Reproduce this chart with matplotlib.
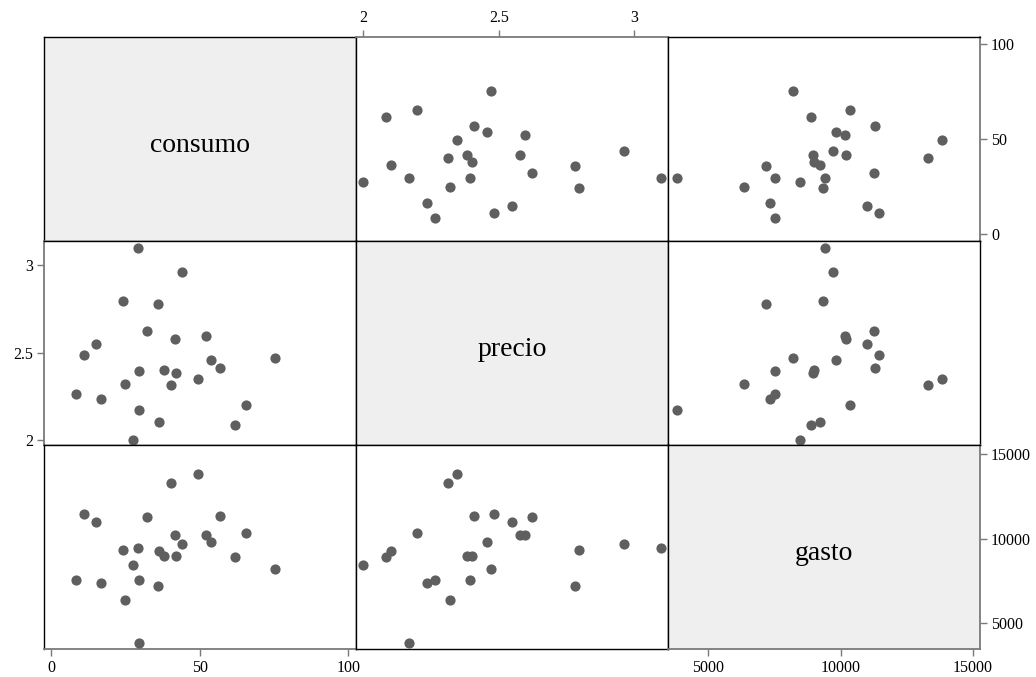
import numpy as np
import matplotlib.pyplot as plt

# scatterplot matrix of consumo / precio / gasto (Stata style graph matrix)

consumo = [8.3, 11.0, 15.0, 16.6, 24.1, 24.8, 27.5, 29.3, 29.6, 29.6, 32.1, 36.0, 36.2,
           37.9, 40.3, 41.7, 41.9, 43.9, 49.5, 52.0, 53.7, 56.9, 61.7, 65.6, 75.2]
precio = [2.265, 2.484, 2.548, 2.234, 2.795, 2.321, 2.000, 3.097, 2.394, 2.169, 2.622, 2.780, 2.102,
          2.402, 2.312, 2.577, 2.382, 2.961, 2.346, 2.597, 2.458, 2.410, 2.085, 2.199, 2.470]
gasto = [7525, 11440, 10990, 7345, 9350, 6345, 8460, 9430, 7520, 3815, 11260, 7175, 9240,
         8990, 13320, 10200, 8950, 9700, 13830, 10185, 9820, 11320, 8895, 10350, 8195]

names = ["consumo", "precio", "gasto"]
data = [consumo, precio, gasto]

# axis ranges (x use, y use) for each variable
xlims = [(-2.35, 102.66), (1.975, 3.124), (3476, 15276)]
ylims = [(-3.69, 103.85), (1.971, 3.138), (3455, 15549)]
ticks = [[0, 50, 100], [2, 2.5, 3], [5000, 10000, 15000]]
ticklabels = [["0", "50", "100"], ["2", "2.5", "3"], ["5000", "10000", "15000"]]

plt.rcParams['font.family'] = ['Liberation Serif', 'DejaVu Serif']

W, H = 1036, 677
fig = plt.figure(figsize=(W / 100, H / 100), dpi=100)
gs = fig.add_gridspec(3, 3, left=44.3 / W, right=980 / W, bottom=1 - 649 / H, top=1 - 37 / H,
                      wspace=0, hspace=0)

axcol = '#7a7a7a'
xside = ['bottom', 'top', 'bottom']   # where each column shows its x axis
yside = ['right', 'left', 'right']    # where each row shows its y axis

for i in range(3):
    for j in range(3):
        ax = fig.add_subplot(gs[i, j])
        ax.set_xlim(xlims[j])
        ax.set_ylim(ylims[i])
        ax.set_xticks([])
        ax.set_yticks([])
        for sp in ax.spines.values():
            sp.set_color('black')
            sp.set_linewidth(1.0)

        if i == j:
            ax.set_facecolor('#efefef')
            ax.text(0.5, 0.47, names[i], transform=ax.transAxes, ha='center', va='center',
                    fontsize=20)
        else:
            ax.scatter(data[j], data[i], s=54, color='#5f5f5f', linewidths=0, zorder=3)

        # x axis labels on the outer edge
        if (xside[j] == 'bottom' and i == 2) or (xside[j] == 'top' and i == 0):
            ax.set_xticks(ticks[j])
            ax.set_xticklabels(ticklabels[j])
            ax.xaxis.set_ticks_position(xside[j])
            ax.spines[xside[j]].set_color(axcol)
            ax.spines[xside[j]].set_linewidth(1.3)
            ax.tick_params(axis='x', direction='out', length=5, width=1, color=axcol,
                           labelsize=11.5, pad=3)
        # y axis labels on the outer edge
        if (yside[i] == 'right' and j == 2) or (yside[i] == 'left' and j == 0):
            ax.set_yticks(ticks[i])
            ax.set_yticklabels(ticklabels[i])
            ax.yaxis.set_ticks_position(yside[i])
            ax.spines[yside[i]].set_color(axcol)
            ax.spines[yside[i]].set_linewidth(1.3)
            ax.tick_params(axis='y', direction='out', length=5, width=1, color=axcol,
                           labelsize=11.5, pad=3)

fig.savefig('out.png', dpi=100)
